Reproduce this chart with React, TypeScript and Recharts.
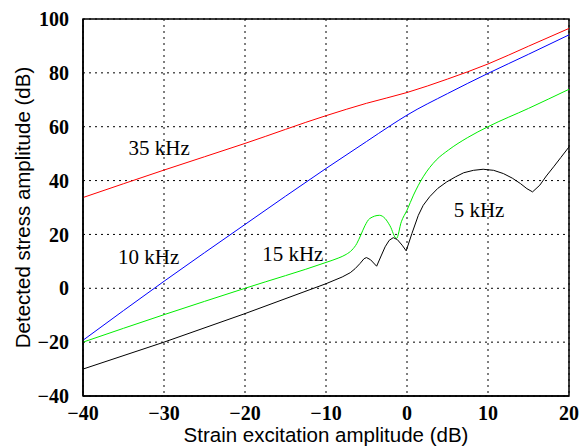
import { LineChart, Line, XAxis, YAxis, CartesianGrid, ReferenceDot, ReferenceArea } from 'recharts'

// x: strain excitation amplitude (dB), y: detected stress amplitude (dB)
const khz35 = [
  { x: -40, y: 33.7 }, { x: -30, y: 43.9 }, { x: -20, y: 53.8 }, { x: -10, y: 64.1 },
  { x: -5, y: 68.7 }, { x: 0, y: 72.7 }, { x: 5, y: 77.7 }, { x: 10, y: 83.3 },
  { x: 15, y: 89.9 }, { x: 20, y: 96.5 },
]

const khz10 = [
  { x: -40, y: -19.3 }, { x: -30, y: 2.6 }, { x: -20, y: 23.7 }, { x: -10, y: 44.5 },
  { x: -5, y: 54.5 }, { x: -2, y: 60.5 }, { x: 0, y: 64.3 }, { x: 5, y: 72.3 },
  { x: 10, y: 79.8 }, { x: 15, y: 86.9 }, { x: 20, y: 94.1 },
]

const khz15 = [
  { x: -40, y: -20 }, { x: -30, y: -9.8 }, { x: -20, y: 0 }, { x: -10, y: 9.6 },
  { x: -8.5, y: 11.2 }, { x: -7.5, y: 12.6 }, { x: -6.8, y: 14.2 }, { x: -6.2, y: 16.6 },
  { x: -5.7, y: 19.8 }, { x: -5.2, y: 23.2 }, { x: -4.6, y: 25.9 }, { x: -3.4, y: 27.1 },
  { x: -2.7, y: 25.9 }, { x: -2.1, y: 23.2 }, { x: -1.3, y: 18.5 }, { x: -0.7, y: 24.7 },
  { x: 0, y: 29 }, { x: 0.8, y: 34.6 }, { x: 2, y: 41.4 }, { x: 3.6, y: 47.6 },
  { x: 5.1, y: 51.3 }, { x: 7.5, y: 56 }, { x: 10, y: 60 }, { x: 15, y: 66.8 },
  { x: 20, y: 73.9 },
]

const khz5 = [
  { x: -40, y: -30 }, { x: -30, y: -20 }, { x: -20, y: -9.4 }, { x: -10, y: 1.7 },
  { x: -8, y: 4.2 }, { x: -7, y: 5.8 }, { x: -6.4, y: 7.3 }, { x: -5.8, y: 9.2 },
  { x: -5.3, y: 11 }, { x: -5, y: 11.4 }, { x: -4.5, y: 10.6 }, { x: -3.75, y: 8.2 },
  { x: -3.2, y: 12 }, { x: -2.7, y: 15.4 }, { x: -2.2, y: 17.8 }, { x: -1.7, y: 18.8 },
  { x: -1.2, y: 18.1 }, { x: -0.6, y: 16 }, { x: -0.1, y: 13.9 }, { x: 0.6, y: 20.3 },
  { x: 1.4, y: 27.1 }, { x: 2, y: 30.8 }, { x: 2.8, y: 34 }, { x: 3.8, y: 37.1 },
  { x: 4.9, y: 39.5 }, { x: 6, y: 41.4 }, { x: 7, y: 42.9 }, { x: 8.2, y: 43.8 },
  { x: 9.4, y: 44.2 }, { x: 10.7, y: 43.8 }, { x: 11.9, y: 42.6 }, { x: 13, y: 40.9 },
  { x: 14, y: 38.9 }, { x: 14.8, y: 37 }, { x: 15.5, y: 35.8 }, { x: 16.4, y: 38.3 },
  { x: 17.2, y: 41.7 }, { x: 18.1, y: 45.1 }, { x: 19, y: 48.6 }, { x: 20, y: 52.5 },
]

const notes = [
  { text: '35 kHz', x: -30.6, y: 52 },
  { text: '10 kHz', x: -31.9, y: 11.5 },
  { text: '15 kHz', x: -14.1, y: 12.6 },
  { text: '5 kHz', x: 8.9, y: 29 },
]

const xTicks = [-40, -30, -20, -10, 0, 10, 20]
const yTicks = [-40, -20, 0, 20, 40, 60, 80, 100]

const tickStyle = { fontSize: 20, fontWeight: 'bold', fontFamily: 'Liberation Serif', fill: '#000' }
const fmt = (v: number) => (v < 0 ? `\u2212${Math.abs(v)}` : `${v}`)

export default function App() {
  return (
    <div style={{ position: 'absolute', left: 0, top: 0, background: '#fff' }}>
      <LineChart width={581} height={446} margin={{ top: 19, right: 12, left: 0, bottom: 0 }}>
        <CartesianGrid stroke="#000" strokeDasharray="2 4" />
        <XAxis
          type="number"
          dataKey="x"
          domain={[-40, 20]}
          ticks={xTicks}
          tickFormatter={fmt}
          height={50}
          tick={tickStyle}
          tickLine={false}
          tickMargin={4}
          axisLine={{ stroke: '#000', strokeWidth: 1.5 }}
          allowDataOverflow
          label={{ value: 'Strain excitation amplitude (dB)', position: 'center', dy: 14, fontSize: 20.5, fontFamily: 'Liberation Sans', fill: '#000' }}
        />
        <YAxis
          type="number"
          domain={[-40, 100]}
          ticks={yTicks}
          tickFormatter={fmt}
          width={83}
          tick={tickStyle}
          tickLine={false}
          tickMargin={8}
          axisLine={{ stroke: '#000', strokeWidth: 1.5 }}
          allowDataOverflow
          label={{ value: 'Detected stress amplitude (dB)', angle: -90, position: 'center', dx: -19, fontSize: 20.5, fontFamily: 'Liberation Sans', fill: '#000' }}
        />
        <ReferenceArea x1={-40} x2={20} y1={-40} y2={100} fill="none" stroke="#000" strokeWidth={1.5} ifOverflow="visible" />
        <Line data={khz35} dataKey="y" type="monotone" stroke="#ff0000" strokeWidth={1} dot={false} isAnimationActive={false} />
        <Line data={khz10} dataKey="y" type="monotone" stroke="#0000ff" strokeWidth={1} dot={false} isAnimationActive={false} />
        <Line data={khz15} dataKey="y" type="monotone" stroke="#00ee00" strokeWidth={1} dot={false} isAnimationActive={false} />
        <Line data={khz5} dataKey="y" type="linear" stroke="#000" strokeWidth={1} dot={false} isAnimationActive={false} />
        {notes.map((n) => (
          <ReferenceDot
            key={n.text}
            x={n.x}
            y={n.y}
            r={0}
            shape={(p: any) => (
              <text x={p.cx} y={p.cy} textAnchor="middle" dominantBaseline="central" fontSize={21} fontFamily="Liberation Serif" fill="#000">
                {n.text}
              </text>
            )}
          />
        ))}
      </LineChart>
    </div>
  )
}
